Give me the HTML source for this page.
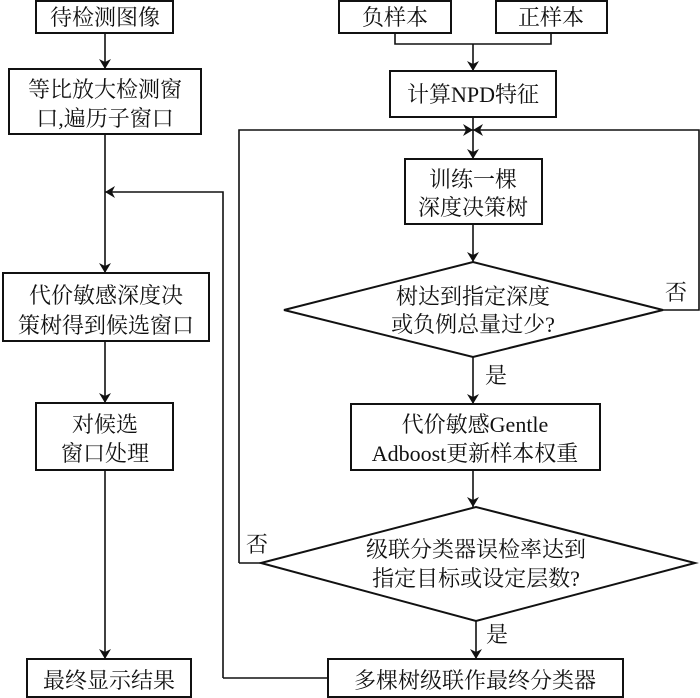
<!DOCTYPE html>
<html><head><meta charset="utf-8"><style>
html,body{margin:0;padding:0;background:#fff}
svg{display:block}
text{font-family:"Liberation Serif","Noto Serif CJK SC",serif;font-size:22px;fill:#111;text-anchor:middle}
</style></head><body>
<svg width="700" height="698" viewBox="0 0 700 698" xmlns="http://www.w3.org/2000/svg">
<defs><marker id="a" markerWidth="10" markerHeight="14" refX="10" refY="7" orient="auto" markerUnits="userSpaceOnUse"><path d="M0,1 L10,7 L0,13 L3,7 Z" fill="#111"/></marker></defs>
<g fill="none" stroke="#111" stroke-width="2">
<rect x="36" y="1" width="137" height="32"/>
<rect x="9" y="69" width="192" height="65"/>
<rect x="3" y="273" width="206" height="68"/>
<rect x="36" y="403" width="137" height="67"/>
<rect x="27" y="659" width="164" height="38"/>
<rect x="339" y="1" width="112" height="32"/>
<rect x="496" y="1" width="111" height="32"/>
<rect x="390" y="71" width="166" height="46"/>
<rect x="405" y="159" width="137" height="65"/>
<polygon points="284,310 473,262 663,310 473,357"/>
<rect x="351" y="404" width="249" height="66"/>
<polygon points="261,563 476,507 695,563 476,621"/>
<rect x="328" y="659" width="295" height="38"/>
</g>
<g fill="none" stroke="#111" stroke-width="1.6">
<line x1="105" y1="33" x2="105" y2="69" marker-end="url(#a)"/>
<line x1="105" y1="134" x2="105" y2="273" marker-end="url(#a)"/>
<polyline points="223,678 223,192 105,192" marker-end="url(#a)"/>
<line x1="105" y1="341" x2="105" y2="403" marker-end="url(#a)"/>
<line x1="105" y1="470" x2="105" y2="659" marker-end="url(#a)"/>
<polyline points="328,678 223,678"/>
<polyline points="395,33 395,44 551,44 551,33"/>
<line x1="473" y1="44" x2="473" y2="71" marker-end="url(#a)"/>
<line x1="473" y1="117" x2="473" y2="159" marker-end="url(#a)"/>
<polyline points="239,563 239,130 473,130" marker-end="url(#a)"/>
<polyline points="663,310 699,310 699,130 473,130" marker-end="url(#a)"/>
<line x1="473" y1="224" x2="473" y2="262" marker-end="url(#a)"/>
<line x1="473" y1="357" x2="473" y2="404" marker-end="url(#a)"/>
<line x1="473" y1="470" x2="473" y2="507" marker-end="url(#a)"/>
<line x1="239" y1="563" x2="261" y2="563"/>
<line x1="476" y1="621" x2="476" y2="659" marker-end="url(#a)"/>
</g>
<text x="105" y="25">待检测图像</text>
<text x="105" y="97">等比放大检测窗</text>
<text x="105" y="126">口,遍历子窗口</text>
<text x="106" y="303">代价敏感深度决</text>
<text x="106" y="333">策树得到候选窗口</text>
<text x="105" y="432">对候选</text>
<text x="105" y="461">窗口处理</text>
<text x="109" y="688">最终显示结果</text>
<text x="395" y="25">负样本</text>
<text x="551" y="25">正样本</text>
<text x="473" y="102">计算NPD特征</text>
<text x="473" y="187">训练一棵</text>
<text x="473" y="215">深度决策树</text>
<text x="473" y="304">树达到指定深度</text>
<text x="473" y="332">或负例总量过少?</text>
<text x="676" y="300">否</text>
<text x="496" y="383">是</text>
<text x="475" y="432">代价敏感Gentle</text>
<text x="475" y="461">Adboost更新样本权重</text>
<text x="476" y="557">级联分类器误检率达到</text>
<text x="476" y="586">指定目标或设定层数?</text>
<text x="257" y="552">否</text>
<text x="497" y="642">是</text>
<text x="475" y="688">多棵树级联作最终分类器</text>
</svg>
</body></html>
